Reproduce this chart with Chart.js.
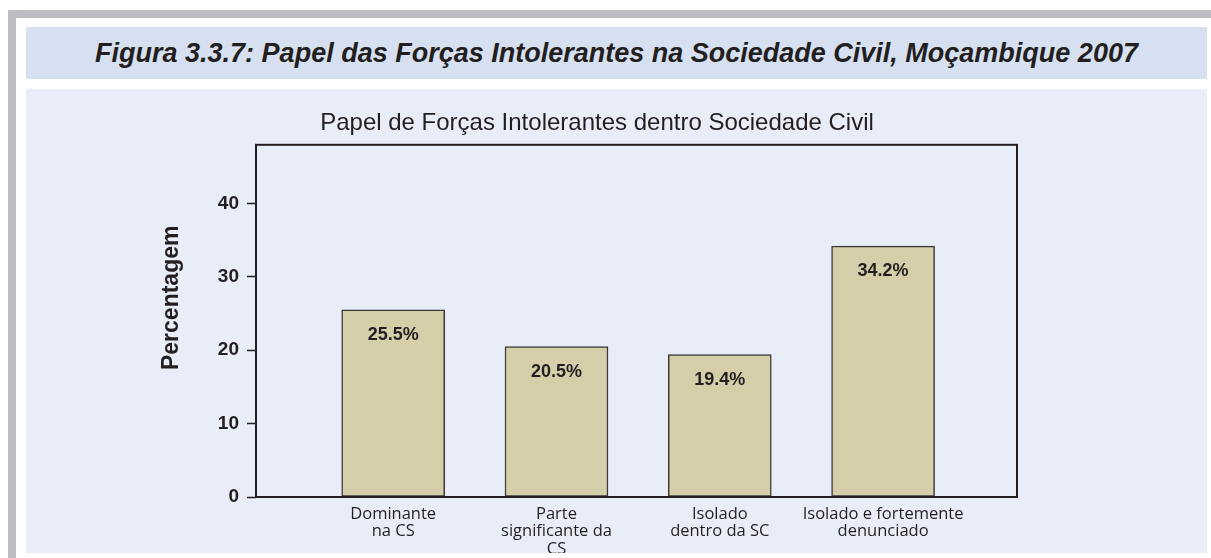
<!DOCTYPE html>
<html>
<head>
<meta charset="utf-8">
<script src="https://cdn.jsdelivr.net/npm/chart.js@4.4.1/dist/chart.umd.min.js"></script>
<style>
  html, body { margin: 0; padding: 0; background: #ffffff; }
  #page { position: relative; width: 1211px; height: 558px; overflow: hidden; background: #ffffff; }
  .rule-top { position: absolute; left: 8px; top: 10px; width: 1203px; height: 8px; background: #bcbec1; }
  .rule-left { position: absolute; left: 8px; top: 10px; width: 8px; height: 548px; background: #bcbec1; }
  #heading {
    position: absolute; left: 26px; top: 27px; width: 1181px; height: 52px;
    background: #d6e0f0; color: #231f20;
    display: flex; align-items: center; justify-content: center;
    font: italic bold 27px "Liberation Sans", Arial, sans-serif;
    white-space: nowrap;
  }
  #panel { position: absolute; left: 26px; top: 89px; width: 1181px; height: 464px; background: #e9edf8; }
  #panel canvas { position: absolute; left: 0; top: 0; }
</style>
</head>
<body>
<div id="page">
  <div class="rule-top"></div>
  <div class="rule-left"></div>
  <div id="heading">Figura 3.3.7: Papel das Forças Intolerantes na Sociedade Civil, Moçambique 2007</div>
  <div id="panel"><canvas id="chart" width="1181" height="464"></canvas></div>
</div>
<script>
// Categories (multi-line axis labels) and the share of each, in percent
const categories = [
  ["Dominante", "na CS"],
  ["Parte", "significante da", "CS"],
  ["Isolado", "dentro da SC"],
  ["Isolado e fortemente", "denunciado"]
];
const percentages = [25.5, 20.5, 19.4, 34.2];
const yTicks = [0, 10, 20, 30, 40];

const chartTitle = "Papel de Forças Intolerantes dentro Sociedade Civil";
const yAxisTitle = "Percentagem";

const INK = "#231f20";

// Closed box around the plotting area
const frameBox = {
  id: "frameBox",
  afterDatasetsDraw(chart) {
    const { ctx, chartArea: a } = chart;
    ctx.save();
    ctx.strokeStyle = INK;
    ctx.lineWidth = 2;
    ctx.strokeRect(a.left, a.top, a.right - a.left, a.bottom - a.top);
    ctx.restore();
  }
};

// Percent labels printed just inside the top of each bar
const barValueLabels = {
  id: "barValueLabels",
  afterDatasetsDraw(chart) {
    const { ctx } = chart;
    const meta = chart.getDatasetMeta(0);
    ctx.save();
    ctx.font = 'bold 18px "Liberation Sans", Arial, sans-serif';
    ctx.fillStyle = INK;
    ctx.textAlign = "center";
    ctx.textBaseline = "middle";
    meta.data.forEach((bar, i) => {
      ctx.fillText(percentages[i].toFixed(1) + "%", bar.x, bar.y + 25);
    });
    ctx.restore();
  }
};

// Rotated y-axis caption, sitting a little above the middle of the axis
const yCaption = {
  id: "yCaption",
  afterDraw(chart) {
    const { ctx, chartArea: a } = chart;
    ctx.save();
    ctx.translate(a.left - 84, a.top + 153);
    ctx.rotate(-Math.PI / 2);
    ctx.font = 'bold 23px "Liberation Sans", Arial, sans-serif';
    ctx.fillStyle = INK;
    ctx.textAlign = "center";
    ctx.textBaseline = "middle";
    ctx.fillText(yAxisTitle, 0, 0);
    ctx.restore();
  }
};

new Chart(document.getElementById("chart"), {
  type: "bar",
  data: {
    datasets: [{
      data: percentages.map((v, i) => ({ x: i, y: v })),
      backgroundColor: "#d4cea9",
      borderColor: "#3b3b3b",
      borderWidth: 1.5,
      borderSkipped: false,
      barThickness: 103
    }]
  },
  options: {
    responsive: false,
    animation: false,
    layout: { padding: { left: 151, right: 190, top: 0, bottom: 0 } },
    plugins: {
      legend: { display: false },
      tooltip: { enabled: false },
      title: {
        display: true,
        text: chartTitle,
        align: "center",
        color: INK,
        font: { family: '"Liberation Sans", Arial, sans-serif', size: 24, weight: "normal", lineHeight: 1.2 },
        padding: { top: 20, bottom: 7 }
      }
    },
    scales: {
      x: {
        type: "linear",
        min: -0.84,
        max: 3.82,
        offset: false,
        grid: { display: false, drawTicks: false },
        border: { display: false },
        afterBuildTicks: (s) => { s.ticks = categories.map((_, i) => ({ value: i })); },
        afterFit: (s) => { s.height = 56; },
        ticks: {
          autoSkip: false,
          maxRotation: 0,
          padding: 8,
          color: INK,
          font: { family: '"Open Sans", sans-serif', size: 16.5, lineHeight: 1.07 },
          callback: (v) => categories[v]
        }
      },
      y: {
        min: 0,
        max: 48,
        afterBuildTicks: (s) => { s.ticks = yTicks.map((v) => ({ value: v })); },
        afterFit: (s) => { s.width = 79; },
        grid: { display: true, drawOnChartArea: false, drawTicks: true, tickLength: 9, tickWidth: 1.5, tickColor: INK },
        border: { display: false },
        ticks: {
          padding: 8,
          color: INK,
          font: { family: '"Liberation Sans", Arial, sans-serif', size: 19, weight: "bold" }
        }
      }
    }
  },
  plugins: [frameBox, barValueLabels, yCaption]
});
</script>
</body>
</html>
